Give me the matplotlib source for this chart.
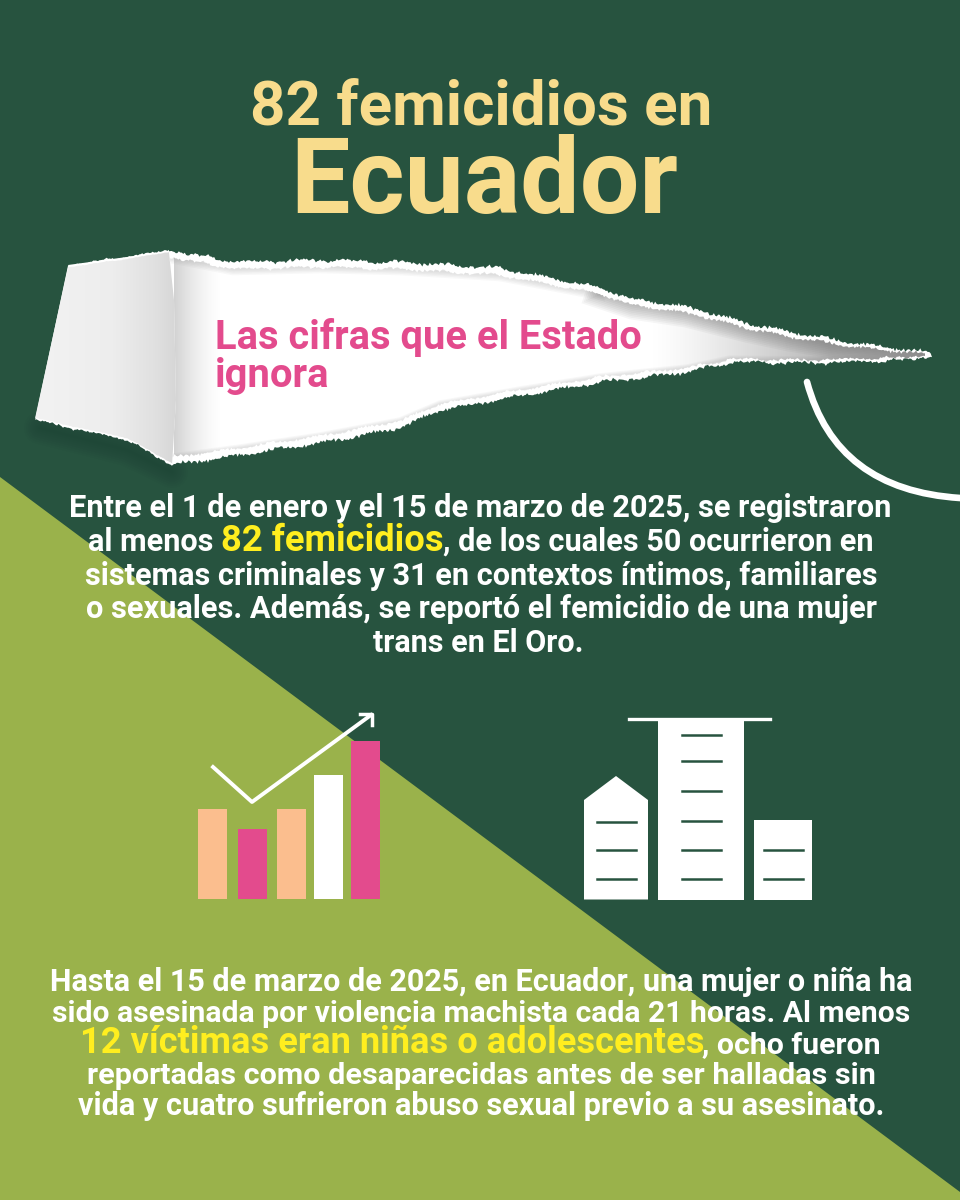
import numpy as np
import matplotlib
matplotlib.use("Agg")
import matplotlib.pyplot as plt
from matplotlib.patches import Polygon, PathPatch, Rectangle
from matplotlib.path import Path

# Colors
C_DARK = "#27533F"
C_GREEN = "#9AB24B"
C_TITLE = "#F8DC8C"
C_PINK = "#E34B8D"
C_PEACH = "#FBBE8E"
C_YELLOW = "#FFEE1F"
C_WHITE = "#FFFFFF"

FONT = "Roboto"

# Bar icon
bar_heights = [90, 70, 90, 124, 158]
bar_colors = [C_PEACH, C_PINK, C_PEACH, C_WHITE, C_PINK]
bar_lefts = [198, 238, 277, 314, 351]
bar_widths = [29, 29, 29, 29, 29]

# Texts
title_top = "82 femicidios en"
title_main = "Ecuador"
subtitle = ["Las cifras que el Estado", "ignora"]

block_1 = [
    [("Entre el 1 de enero y el 15 de marzo de 2025, se registraron", 0)],
    [("al menos ", 0), ("82 femicidios", 1), (", de los cuales 50 ocurrieron en", 0)],
    [("sistemas criminales y 31 en contextos íntimos, familiares", 0)],
    [("o sexuales. Además, se reportó el femicidio de una mujer", 0)],
    [("trans en El Oro.", 0)],
]
block_1_x = [(69, 890), (88, 872), (85, 875), (86, 875), (373, 583)]
block_1_y = [517, 551, 585, 618, 652]

block_2 = [
    [("Hasta el 15 de marzo de 2025, en Ecuador, una mujer o niña ha", 0)],
    [("sido asesinada por violencia machista cada 21 horas. Al menos", 0)],
    [("12 víctimas eran niñas o adolescentes", 1), (", ocho fueron", 0)],
    [("reportadas como desaparecidas antes de ser halladas sin", 0)],
    [("vida y cuatro sufrieron abuso sexual previo a su asesinato.", 0)],
]
block_2_x = [(50, 910), (52, 908), (80, 880), (87, 872), (78, 882)]
block_2_y = [991, 1022, 1053, 1084, 1115]

# Torn paper outline
tear_top = [(170, 250), (233, 262), (320, 260), (400, 262), (500, 268), (600, 288),
            (633, 299), (687, 307), (747, 323), (790, 332), (847, 342), (893, 348), (932, 353)]
tear_bottom = [(932, 356), (893, 361), (803, 363), (730, 362), (687, 372), (637, 378),
               (600, 382), (520, 396), (440, 410), (400, 428), (320, 443), (240, 455), (172, 465)]
inner_top = [(165, 256), (233, 269), (320, 267), (400, 269), (500, 275), (600, 294),
             (633, 305), (687, 313), (747, 328), (790, 337), (847, 346), (893, 351), (925, 354)]
inner_bottom = [(925, 355), (893, 358), (803, 360), (730, 359), (687, 368), (637, 373),
                (600, 377), (520, 390), (440, 404), (400, 421), (320, 436), (240, 448), (165, 458)]
flap = [(68, 265), (120, 258), (170, 250), (174, 300), (176, 400), (172, 465),
        (127, 440), (80, 430), (35, 420)]


def rough(points, amp=1.2):
    """Resample a polyline and give it a ragged paper edge."""
    pts = np.array(points, dtype=float)
    seg = np.hypot(*np.diff(pts, axis=0).T)
    s = np.r_[0, np.cumsum(seg)]
    t = np.arange(0, s[-1], 1.5)
    x = np.interp(t, s, pts[:, 0])
    y = np.interp(t, s, pts[:, 1])
    jit = (np.sin(0.13 * t) + 0.8 * np.sin(0.37 * t * (1 + 0.2 * np.sin(0.05 * t)))
           + 0.6 * np.sin(1.07 * t + 1) + 0.5 * np.sin(2.3 * t + 2))
    return np.c_[x, y + amp * jit]


fig = plt.figure(figsize=(9.6, 12), dpi=100, facecolor=C_DARK)
ax = fig.add_axes([0, 0, 1, 1])
ax.set_facecolor(C_DARK)

# Green triangle
ax.add_patch(Polygon([(0, 477), (960, 1192), (960, 1200), (0, 1200)], fc=C_GREEN, ec="none", zorder=1))

# Soft shadow under the flap
shadow_line = [(40, 428), (127, 450), (172, 472)]
for w in np.arange(2, 26, 3):
    ax.plot(*zip(*shadow_line), color="#143328", lw=w, alpha=0.04, zorder=2, solid_capstyle="round")

# Paper
ax.add_patch(Polygon(np.vstack([[(68, 265)], rough(tear_top), rough(tear_bottom)]), fc=C_WHITE, ec="none", zorder=3))

inner_pts = np.vstack([rough(inner_top, 1.0), rough(inner_bottom, 1.0)])
inner = Polygon(inner_pts, fc=C_WHITE, ec="none", zorder=4)
ax.add_patch(inner)

# Grey fade toward the tip of the tear
fade = np.zeros((1, 256, 4))
fade[..., :3] = 0.70
fade[..., 3] = np.clip(np.linspace(0, 1.6, 256), 0, 1) ** 1.3
im = ax.imshow(fade, extent=(650, 940, 380, 290), aspect="auto", zorder=5)
im.set_clip_path(inner)

# Shadow along the inner edges
right_top = inner_top[5:]
left_top = inner_top[:6]
for w in np.arange(1, 22, 2.5):
    l1, = ax.plot(*zip(*right_top), color="#666666", lw=w, alpha=0.06, zorder=6)
    l1.set_clip_path(inner)
for w in np.arange(1, 10, 2):
    l1, = ax.plot(*zip(*left_top), color="#777777", lw=w, alpha=0.05, zorder=6)
    l1.set_clip_path(inner)
    l2, = ax.plot(*zip(*inner_bottom), color="#888888", lw=w * 0.6, alpha=0.05, zorder=6)
    l2.set_clip_path(inner)

# Shadow from the fold
fold = np.zeros((1, 256, 4))
fold[..., :3] = 0.5
fold[..., 3] = np.linspace(0.5, 0, 256) ** 1.5
im = ax.imshow(fold, extent=(174, 222, 470, 250), aspect="auto", zorder=7)
im.set_clip_path(inner)

# Folded flap
flap_pts = np.vstack([rough(flap[:3], 0.8), flap[3:6], rough(flap[5:], 0.8)])
flap_patch = Polygon(flap_pts, fc=C_WHITE, ec="none", zorder=8)
ax.add_patch(flap_patch)
shade = np.interp(np.linspace(0, 1, 256), [0, 0.55, 0.85, 1], [0.95, 0.93, 0.88, 0.84])
grad = np.repeat(shade[None, :, None], 3, axis=2)
im = ax.imshow(grad, extent=(35, 176, 470, 248), aspect="auto", zorder=9)
im.set_clip_path(Polygon(np.vstack([rough(flap[:3], 0.3) + (0, 2), flap[3:6], rough(flap[5:], 0.3) - (0, 2)]), transform=ax.transData))

# White arc
arc = Path([(807, 382), (836, 490), (960, 498)], [Path.MOVETO, Path.CURVE3, Path.CURVE3])
ax.add_patch(PathPatch(arc, fc="none", ec=C_WHITE, lw=4.8, capstyle="round", zorder=3))

# Bar icon
ax.bar(bar_lefts, [-h for h in bar_heights], width=bar_widths, bottom=899, align="edge",
       color=bar_colors, zorder=4)
ax.plot([213, 252, 371], [767, 802, 715], color=C_WHITE, lw=2.8, zorder=5)
ax.plot([360, 372, 372], [714, 714, 725], color=C_WHITE, lw=2.5, zorder=5)

# Building icon
ax.add_patch(Polygon([(584, 800), (616, 776), (648, 800), (648, 899.5), (584, 899.5)], fc=C_WHITE, ec="none", zorder=4))
ax.add_patch(Rectangle((658, 719), 86, 180.5, fc=C_WHITE, ec="none", zorder=4))
ax.add_patch(Rectangle((754, 820), 58, 79.5, fc=C_WHITE, ec="none", zorder=4))
ax.plot([629, 770], [719, 719], color=C_WHITE, lw=2.4, zorder=4)
for y in [734.5, 760.5, 790.5, 820.5, 850, 878.5]:
    ax.plot([682, 721], [y, y], color=C_DARK, lw=1.8, zorder=5)
for y in [822, 850, 878.5]:
    ax.plot([596.5, 635.5], [y, y], color=C_DARK, lw=1.8, zorder=5)
for y in [850, 878.5]:
    ax.plot([764, 803], [y, y], color=C_DARK, lw=1.8, zorder=5)

ax.set_xlim(0, 960)
ax.set_ylim(1200, 0)
ax.axis("off")

renderer = fig.canvas.get_renderer()


def fit_text(txt, x0, x1, y, color, ha="left"):
    """Place one run of text so that it spans x0..x1."""
    t = ax.text(x0, y, txt, color=color, family=FONT, weight="bold", fontsize=20, va="baseline", ha=ha, zorder=12)
    w = t.get_window_extent(renderer).width
    t.set_fontsize(20 * (x1 - x0) / w)
    return t


def run_line(runs, x0, x1, y, scale=1.19):
    """Draw a line of mixed runs; runs flagged 1 are larger and yellow."""
    sizes = []
    for txt, hi in runs:
        t = ax.text(0, 0, txt.replace(" ", "\u00a0"), family=FONT, weight="bold", fontsize=20)
        sizes.append(t.get_window_extent(renderer).width * (scale if hi else 1))
        t.remove()
    k = (x1 - x0) / sum(sizes)
    x = x0
    for (txt, hi), w in zip(runs, sizes):
        ax.text(x, y, txt.replace(" ", "\u00a0"), family=FONT, weight="bold",
                fontsize=20 * k * (scale if hi else 1), color=C_YELLOW if hi else C_WHITE,
                va="baseline", ha="left", zorder=12)
        x += w * k


fit_text(title_top, 250, 712, 126, C_TITLE)
fit_text(title_main, 290, 677, 213, C_TITLE)
fit_text(subtitle[0], 215, 640, 349, C_PINK)
fit_text(subtitle[1], 215, 329, 387, C_PINK)

for runs, (x0, x1), y in zip(block_1, block_1_x, block_1_y):
    run_line(runs, x0, x1, y)
for runs, (x0, x1), y in zip(block_2, block_2_x, block_2_y):
    run_line(runs, x0, x1, y, scale=1.2)

fig.savefig("out.png", dpi=100, facecolor=C_DARK)
